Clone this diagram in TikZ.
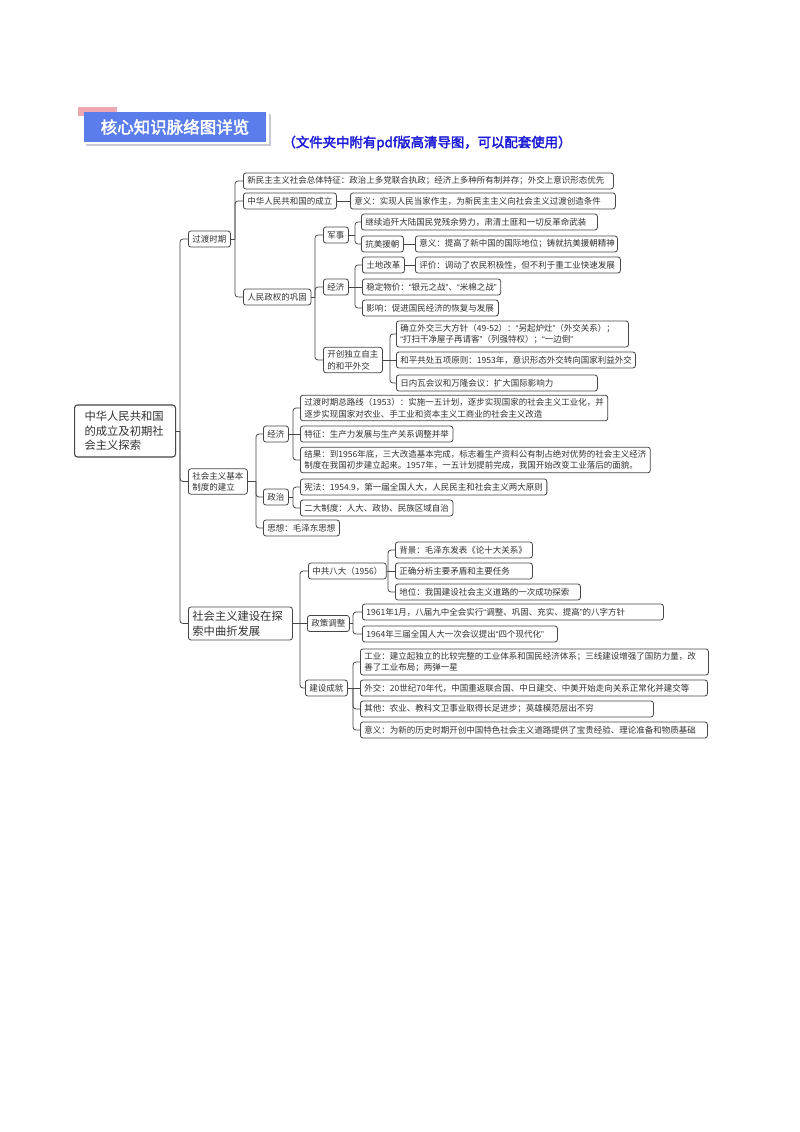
\documentclass[tikz,border=0pt]{standalone}
\usepackage{fontspec}
\newfontfamily\cjk[AutoFakeBold=2.5]{Noto Sans CJK SC}
\newfontfamily\lat{Liberation Sans}
\newcommand\qo{{\lat “}}
\newcommand\qc{{\lat ”}}
\definecolor{lc}{RGB}{70,70,70}
\definecolor{tc}{RGB}{50,50,50}
\definecolor{titleblue}{RGB}{90,125,235}
\definecolor{pinkc}{RGB}{238,168,178}
\definecolor{shadowc}{RGB}{200,200,215}
\definecolor{subblue}{RGB}{25,25,215}
\newcommand\bx[6][]{%
  \ifdim#5pt=0pt
    \node[nd,#1] (#2) at (#3,#4) {#6};%
  \else
    \pgfmathsetmacro\tw{#5-#3-8}%
    \node[nd,text width=\tw pt,#1] (#2) at (#3,#4) {#6};%
  \fi}
\newcommand\tree[3]{%
  \path (#2,0) coordinate (tmpS);
  \draw[cn] (#1.east) -- (#1.east -| tmpS);
  \foreach \c in {#3}{\draw[cn] (#1.east -| tmpS) |- (\c.west);}}
\begin{document}
\begin{tikzpicture}[x=1pt,y=-1pt,
  nd/.style={draw=lc, line width=0.8pt, rounded corners=2.5pt, fill=white, text=tc,
    font=\cjk\fontsize{8.5}{11.5}\selectfont, inner xsep=4pt, inner ysep=3pt,
    minimum height=16pt, anchor=west, align=left},
  big/.style={font=\cjk\fontsize{11.3}{14.5}\selectfont, inner ysep=4pt},
  cn/.style={draw=lc, line width=0.8pt, rounded corners=3pt}]
\useasboundingbox[fill=white] (0,0) rectangle (800,1132);

% header
\fill[pinkc] (78,107) rectangle (117,116);
\draw[shadowc, line width=1.2pt] (86,145) -- (270,145) -- (270,114);
\node[fill=titleblue, text=white, font=\cjk\bfseries\fontsize{16.5}{18}\selectfont,
  minimum width=182pt, minimum height=30pt, inner sep=0pt] (T) at (175,127) {核心知识脉络图详览};
\node[text=subblue, font=\cjk\bfseries\fontsize{13.4}{15}\selectfont, inner sep=0pt] (S) at (427,143)
  {（文件夹中附有pdf版高清导图，可以配套使用）};

% root
\node[nd, big, inner xsep=10pt, text width=81pt, line width=1.1pt, rounded corners=3pt,
  minimum height=52pt] (R) at (74,431) {中华人民共和国\\的成立及初期社\\会主义探索};

% level 1
\bx{A1}{188}{239}{0}{过渡时期}
\bx{A2}{188}{481.5}{0}{社会主义基本\\制度的建立}
\bx[big]{A3}{188}{623.5}{292}{社会主义建设在探\\索中曲折发展}

% section 1
\bx{B1}{243}{181}{613}{新民主主义社会总体特征：政治上多党联合执政；经济上多种所有制并存；外交上意识形态优先}
\bx{B2}{243}{201}{0}{中华人民共和国的成立}
\bx{B2a}{350}{201}{615}{意义：实现人民当家作主，为新民主主义向社会主义过渡创造条件}
\bx{B3}{243}{297}{0}{人民政权的巩固}

\bx{C1}{323}{235}{0}{军事}
\bx{C1a}{361}{222}{597}{继续追歼大陆国民党残余势力，肃清土匪和一切反革命武装}
\bx{C1b}{361}{244}{0}{抗美援朝}
\bx{C1b1}{415}{244}{617}{意义：提高了新中国的国际地位；铸就抗美援朝精神}

\bx{C2}{323}{287}{0}{经济}
\bx{C2a}{362}{265}{0}{土地改革}
\bx{C2a1}{415}{265}{620}{评价：调动了农民积极性，但不利于重工业快速发展}
\bx{C2b}{362}{287}{0}{稳定物价：\qo 银元之战\qc 、\qo 米棉之战\qc}
\bx{C2c}{362}{308}{498}{影响：促进国民经济的恢复与发展}

\bx{C3}{323}{360}{0}{开创独立自主\\的和平外交}
\bx{C3a}{396}{334}{628}{确立外交三大方针（49-52）：\qo 另起炉灶\qc （外交关系）；\\\qo 打扫干净屋子再请客\qc （列强特权）；\qo 一边倒\qc}
\bx{C3b}{396}{360}{635}{和平共处五项原则：1953年，意识形态外交转向国家利益外交}
\bx{C3c}{396}{383}{597}{日内瓦会议和万隆会议：扩大国际影响力}

% section 2
\bx{D1}{263}{434}{0}{经济}
\bx{D1a}{300}{408}{0}{过渡时期总路线（1953）：实施一五计划，逐步实现国家的社会主义工业化，并\\逐步实现国家对农业、手工业和资本主义工商业的社会主义改造}
\bx{D1b}{300}{434}{0}{特征：生产力发展与生产关系调整并举}
\bx{D1c}{300}{460}{0}{结果：到1956年底，三大改造基本完成，标志着生产资料公有制占绝对优势的社会主义经济\\制度在我国初步建立起来。1957年，一五计划提前完成，我国开始改变工业落后的面貌。}
\bx{D2}{263}{497}{0}{政治}
\bx{D2a}{300}{487}{0}{宪法：1954.9，第一届全国人大，人民民主和社会主义两大原则}
\bx{D2b}{300}{508}{0}{二大制度：人大、政协、民族区域自治}
\bx{D3}{263}{528}{0}{思想：毛泽东思想}

% section 3
\bx{E1}{308}{571}{0}{中共八大（1956）}
\bx{E1a}{395}{550}{532}{背景：毛泽东发表《论十大关系》}
\bx{E1b}{395}{571}{532}{正确分析主要矛盾和主要任务}
\bx{E1c}{395}{592}{580}{地位：我国建设社会主义道路的一次成功探索}
\bx{E2}{307}{623.5}{0}{政策调整}
\bx{E2a}{362}{612}{663}{1961年1月，八届九中全会实行\qo 调整、巩固、充实、提高\qc 的八字方针}
\bx{E2b}{362}{634}{557}{1964年三届全国人大一次会议提出\qo 四个现代化\qc}
\bx{E3}{305}{688}{0}{建设成就}
\bx{E3a}{360}{662}{708}{工业：建立起独立的比较完整的工业体系和国民经济体系；三线建设增强了国防力量，改\\善了工业布局；两弹一星}
\bx{E3b}{360}{688}{707}{外交：20世纪70年代，中国重返联合国、中日建交、中美开始走向关系正常化并建交等}
\bx{E3c}{360}{709}{653}{其他：农业、教科文卫事业取得长足进步；英雄模范层出不穷}
\bx{E3d}{360}{730}{707}{意义：为新的历史时期开创中国特色社会主义道路提供了宝贵经验、理论准备和物质基础}

% connectors
\tree{R}{180}{A1,A2,A3}
\tree{A1}{235}{B1,B2,B3}
\draw[cn] (B2.east) -- (B2a.west);
\tree{B3}{315}{C1,C2,C3}
\tree{C1}{355}{C1a,C1b}
\draw[cn] (C1b.east) -- (C1b1.west);
\tree{C2}{355}{C2a,C2c}
\draw[cn] (C2.east) -- (C2b.west);
\draw[cn] (C2a.east) -- (C2a1.west);
\tree{C3}{390}{C3a,C3c}
\draw[cn] (C3.east) -- (C3b.west);
\tree{A2}{256}{D1,D2,D3}
\tree{D1}{293}{D1a,D1c}
\draw[cn] (D1.east) -- (D1b.west);
\tree{D2}{293}{D2a,D2b}
\tree{A3}{300}{E1,E3}
\draw[cn] (A3.east) -- (E2.west);
\tree{E1}{388}{E1a,E1c}
\draw[cn] (E1.east) -- (E1b.west);
\tree{E2}{353}{E2a,E2b}
\tree{E3}{353}{E3a,E3c,E3d}
\draw[cn] (E3.east) -- (E3b.west);
\end{tikzpicture}
\end{document}
